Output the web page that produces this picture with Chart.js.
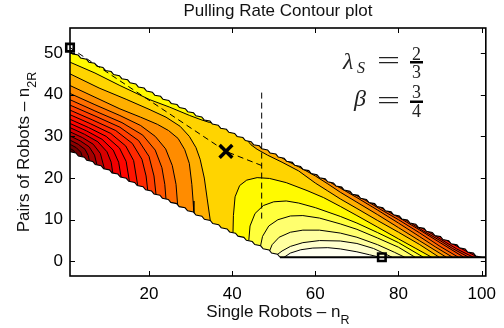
<!DOCTYPE html>
<html>
<head>
<meta charset="utf-8">
<script src="https://cdn.jsdelivr.net/npm/chart.js@4.4.1/dist/chart.umd.min.js"></script>
<style>
  html, body { margin: 0; padding: 0; background: #fff; }
</style>
</head>
<body>
<canvas id="chart" width="504" height="328"></canvas>
<script>
const xTicks = [20, 40, 60, 80, 100];
const yTicks = [0, 10, 20, 30, 40, 50];

// edges of the feasible region (n_R, n_2R)
const upperEdge = [[1, 50.5], [100, 1]];
const lowerEdge = [[1, 26.3], [51.5, 1]];
const bottomEdge = [[51.5, 1], [101, 1]];

// contour lines in the lower left, levels 1..15 (left edge -> lower edge)
const L1 = [[1, 27.1], [1.9, 26.6], [2.5, 25.55]];
const L2 = [[1, 28.1], [2.5, 27.3], [3.6, 26.2], [4.1, 24.75]];
const L3 = [[1, 29.1], [3, 28.1], [4.6, 26.9], [5.4, 25.4], [5.7, 23.95]];
const L4 = [[1, 30.1], [3.5, 28.9], [5.6, 27.5], [6.9, 25.5], [7.5, 23.05]];
const L5 = [[1, 31.1], [4, 29.7], [6.6, 28.1], [8.3, 25.9], [9.3, 22.15]];
const L6 = [[1, 32.1], [4.5, 30.5], [7.7, 28.7], [9.9, 26.3], [10.9, 23.8], [11.3, 21.15]];
const L7 = [[1, 33.1], [5, 31.3], [8.7, 29.3], [11.4, 26.7], [12.7, 23.8], [13.3, 20.15]];
const L8 = [[1, 34.1], [5.5, 32.1], [9.7, 30], [12.9, 27.2], [14.5, 24], [15.3, 19.15]];
const L9 = [[1, 35.2], [6, 33], [10.8, 30.7], [14.4, 27.7], [16.3, 24.2], [17.3, 18.15]];
const L10 = [[1, 36.3], [6.5, 33.9], [12, 31.4], [16, 28.3], [18.3, 24.5], [19.3, 20.5], [19.7, 16.95]];
const L11 = [[1, 37.5], [7, 34.9], [13, 32.2], [17.5, 29], [20, 25.2], [21.2, 20.5], [21.7, 15.95]];
const L12 = [[1, 38.8], [7, 36.1], [13.5, 33.3], [18.5, 30.3], [21.5, 26.7], [23.1, 22.5], [23.8, 18.5], [24.1, 14.75]];
const L13 = [[1, 40.3], [7, 37.6], [13, 35], [18, 32.6], [21.5, 30], [24, 27], [25.6, 23], [26.5, 18.5], [26.9, 13.35]];
const L14 = [[1, 42.2], [7, 39.4], [13, 36.6], [18, 34.6], [22, 32.9], [24.7, 31.4], [27, 29.5], [28.6, 26.8], [29.7, 23.5], [30.3, 18.5], [30.6, 14.5], [30.8, 11.4]];
const L15 = [[1, 45], [8, 41.6], [14.5, 38.9], [20, 36.5], [24.1, 34.6], [27.5, 32.4], [29.7, 30], [31.3, 27.3], [32.3, 24.5], [33.3, 20], [34, 15], [34.8, 9.4]];

// contour lines on the right, levels 8..15 (upper edge -> bottom)
const U8 = [[90, 6], [93, 4.2], [96, 2.6], [99.1, 1]];
const U9 = [[84, 9], [87, 7.2], [90, 5.4], [94, 3], [98, 1]];
const U10 = [[78, 12], [82, 9.8], [86, 7.3], [90, 5], [93, 3.1], [96.9, 1]];
const U11 = [[72, 15], [75, 13.3], [80, 10.6], [85, 7.6], [90, 4.5], [95.7, 1]];
const U12 = [[65, 18.5], [68, 16.8], [72, 14.7], [76, 12.3], [80, 10], [85, 6.9], [90, 3.6], [94.4, 1]];
const U13 = [[58, 22], [60, 20.9], [63, 19.3], [66, 17.6], [70, 15.3], [75, 12.3], [80, 9.2], [85, 6], [89, 3.4], [93, 1]];
const U14 = [[51, 25.5], [53, 24.2], [56, 22.7], [60, 20.5], [63, 18.6], [66, 16.6], [70, 14.2], [75, 11.2], [80, 8.1], [85, 5], [91.5, 1]];
const U15 = [[43.5, 29.25], [44.5, 28], [46, 26.9], [48.5, 25.5], [52, 23.8], [56, 21.7], [60, 18.8], [63, 16.9], [66, 15], [70, 12.7], [75, 9.8], [80, 7], [85, 4.1], [89.8, 1]];

// level 16 tongue along the top left
const T16 = [[1, 47.8], [7, 45.2], [13, 42.2], [20.2, 38.8], [25, 37], [29.8, 35], [32.5, 34], [34.5, 33.35], [35.6, 33.2]];

// ridge arcs, levels 16..21 (lower edge -> bottom)
const A16 = [[40.2, 6.9], [40.3, 11], [40.7, 15.5], [41.8, 18.2], [43.5, 19.5], [46, 20.1], [49, 19.9], [53, 18.9], [58, 17], [62, 15.3], [66, 13.2], [70, 11], [75, 8.2], [80, 5.4], [84, 3.2], [88, 1]];
const A17 = [[44, 5], [44.3, 8.5], [45.5, 11.5], [47.5, 13.4], [50, 14.3], [53, 14.5], [56, 14], [60, 12.9], [66, 10.8], [70, 9.2], [75, 6.9], [80, 4.5], [86, 1]];
const A18 = [[46.8, 3.6], [47.3, 6], [48.8, 8.5], [51, 10], [54, 10.9], [57, 11], [61, 10.4], [66, 9], [70, 7.7], [75, 5.6], [80, 3.4], [84, 1]];
const A19 = [[49, 2.5], [49.6, 4], [51.3, 5.8], [54, 7], [57, 7.5], [61, 7.5], [66, 6.8], [70, 5.8], [75, 4], [79, 2.2], [81.5, 1]];
const A20 = [[50.8, 1.6], [52, 2.5], [54, 3.6], [57, 4.5], [61, 5], [66, 4.9], [70, 4.3], [74, 3.1], [78.5, 1]];
const A21 = [[52.5, 1], [54, 2], [56.5, 2.8], [59.4, 3.2], [63, 3.3], [66, 3], [70, 2.3], [73, 1.6], [75.5, 1]];

// band colours (hot colormap), band 0 = lowest
const bandColors = [
  '#5a0000', '#730000', '#8c0000', '#a50000', '#be0000', '#d70000', '#f00000',
  '#ff0500', '#ff1400', '#ff2800', '#ff3e00', '#ff5500', '#ff6e00', '#ff8c00',
  '#ffaf00', '#ffd400', '#fffa00', '#ffff3c', '#ffff6e', '#ffffa0', '#ffffcd', '#fffff0'
];

const pathToVertex = [[1, 51.3], [38.5, 26.4], [47.1, 23]];
const boundaryLine = [[47.1, 40.5], [47.1, 10]];
const saddlePoint = [[38.5, 26.4]];
const optimumPoints = [[1, 51.3], [76, 1]];

const titleText = 'Pulling Rate Contour plot';
const xLabel = ['Single Robots \u2013 n', 'R'];
const yLabel = ['Pairs of Robots \u2013 n', '2R'];

const lowLines = [L1, L2, L3, L4, L5, L6, L7, L8, L9, L10, L11, L12, L13, L14, L15];
const rightLines = { 8: U8, 9: U9, 10: U10, 11: U11, 12: U12, 13: U13, 14: U14, 15: U15 };
const arcs = [A16, A17, A18, A19, A20, A21];

const FAR_L = 0, FAR_R = 103, FAR_T = 62, FAR_B = -8;

function toXY(arr) {
  return arr.map(p => ({ x: p[0], y: p[1] }));
}

// the grid makes the slanted edges come out as small steps
function stepped(edge, steps, depth, at) {
  const [a, b] = edge;
  const pts = [];
  for (let i = 0; i < steps; i++) {
    const t0 = i / steps, t1 = (i + at) / steps;
    pts.push([a[0] + (b[0] - a[0]) * t0, a[1] + (b[1] - a[1]) * t0]);
    pts.push([a[0] + (b[0] - a[0]) * t1, a[1] + (b[1] - a[1]) * t1 + depth]);
  }
  pts.push(b);
  return pts;
}
const upperSteps = stepped(upperEdge, 50, -0.42, 0.3);
const lowerSteps = stepped(lowerEdge, 25, 0.42, 0.7);

// polygons of the region above a level, closed outside the feasible area
function closeLeft(L) {
  const end = L[L.length - 1];
  return [...L, [end[0], FAR_B], [FAR_R, FAR_B], [FAR_R, FAR_T], [FAR_L, FAR_T], [FAR_L, L[0][1]]];
}
function closeBoth(L, U) {
  const end = L[L.length - 1];
  const uEnd = U[U.length - 1];
  return [...L, [end[0], FAR_B], [uEnd[0], FAR_B], ...U.slice().reverse(),
    [U[0][0], FAR_T], [FAR_L, FAR_T], [FAR_L, L[0][1]]];
}
function closeTongue(T) {
  const end = T[T.length - 1];
  return [...T, [end[0], FAR_T], [FAR_L, FAR_T], [FAR_L, T[0][1]]];
}
function closeArc(A) {
  const end = A[A.length - 1];
  return [...A, [end[0], FAR_B], [A[0][0], FAR_B]];
}

const datasets = [];

function area(points, color) {
  datasets.push({
    data: toXY(points),
    showLine: true,
    fill: 'shape',
    backgroundColor: color,
    borderColor: 'rgba(0,0,0,0)',
    borderWidth: 0,
    pointRadius: 0
  });
}

function curve(points, width, dash) {
  datasets.push({
    data: toXY(points),
    showLine: true,
    fill: false,
    borderColor: '#000',
    borderWidth: width,
    borderDash: dash || [],
    pointRadius: 0,
    clip: dash ? false : undefined
  });
}

area([[FAR_L, FAR_B], [FAR_R, FAR_B], [FAR_R, FAR_T], [FAR_L, FAR_T]], bandColors[0]);
for (let k = 1; k <= 15; k++) {
  const L = lowLines[k - 1];
  const U = rightLines[k];
  area(U ? closeBoth(L, U) : closeLeft(L), bandColors[k]);
}
area(closeTongue(T16), bandColors[16]);
arcs.forEach((A, i) => area(closeArc(A), bandColors[16 + i]));

[...lowLines, ...Object.values(rightLines), T16, ...arcs].forEach(l => curve(l, 1));

// white outside the feasible area
area([[FAR_L, upperEdge[0][1]], ...upperSteps, [FAR_R, 1], [FAR_R, FAR_T], [FAR_L, FAR_T]], '#fff');
area([[FAR_L, lowerEdge[0][1]], ...lowerSteps, [FAR_R, 1], [FAR_R, FAR_B], [FAR_L, FAR_B]], '#fff');

curve(upperSteps, 1.1);
curve(lowerSteps, 1.1);
curve(bottomEdge, 1.8);

curve(pathToVertex, 1, [6, 4]);
curve(boundaryLine, 1, [6, 4]);

datasets.push({
  data: toXY(saddlePoint),
  pointStyle: 'crossRot',
  pointRadius: 9,
  borderColor: '#000',
  borderWidth: 3.5,
  clip: false
});
datasets.push({
  data: toXY(optimumPoints),
  pointStyle: 'rect',
  pointRadius: 5.3,
  backgroundColor: 'rgba(255,255,255,0)',
  borderColor: '#000',
  borderWidth: 2.6,
  clip: false
});

datasets.forEach((d, i) => { d.order = datasets.length - i; });

const FONT = '"Liberation Sans", Arial, Helvetica, sans-serif';
const FS = 17;

function drawWithSub(ctx, parts, cx, base, size, subSize, drop) {
  ctx.font = size + 'px ' + FONT;
  const w1 = ctx.measureText(parts[0]).width;
  ctx.font = subSize + 'px ' + FONT;
  const w2 = ctx.measureText(parts[1]).width;
  const x0 = cx - (w1 + w2) / 2;
  ctx.textAlign = 'left';
  ctx.font = size + 'px ' + FONT;
  ctx.fillText(parts[0], x0, base);
  ctx.font = subSize + 'px ' + FONT;
  ctx.fillText(parts[1], x0 + w1, base + drop);
}

const framePlugin = {
  id: 'frame',
  afterDatasetsDraw(chart) {
    const ctx = chart.ctx;
    const { left, right, top, bottom } = chart.chartArea;
    const xs = chart.scales.x, ys = chart.scales.y;
    ctx.save();
    ctx.strokeStyle = '#000';
    ctx.lineWidth = 1;
    ctx.beginPath();
    xTicks.forEach(v => {
      const px = Math.round(xs.getPixelForValue(v)) + 0.5;
      ctx.moveTo(px, bottom); ctx.lineTo(px, bottom - 5);
      ctx.moveTo(px, top); ctx.lineTo(px, top + 5);
    });
    yTicks.forEach(v => {
      const py = Math.round(ys.getPixelForValue(v)) + 0.5;
      ctx.moveTo(left, py); ctx.lineTo(left + 5, py);
      ctx.moveTo(right, py); ctx.lineTo(right - 5, py);
    });
    ctx.stroke();
    ctx.lineWidth = 1.6;
    ctx.strokeRect(left, top, right - left, bottom - top);
    ctx.restore();
  },
  afterDraw(chart) {
    const ctx = chart.ctx;
    const { left, right, top, bottom } = chart.chartArea;
    const cx = (left + right) / 2;
    ctx.save();
    ctx.fillStyle = '#111';
    ctx.textBaseline = 'alphabetic';
    ctx.font = FS + 'px ' + FONT;
    ctx.textAlign = 'center';
    ctx.fillText(titleText, cx, 16);
    drawWithSub(ctx, xLabel, cx, 317, FS, 12.5, 7);
    ctx.save();
    ctx.translate(29, (top + bottom) / 2);
    ctx.rotate(-Math.PI / 2);
    drawWithSub(ctx, yLabel, 0, 0, FS, 12.5, 7);
    ctx.restore();

    // parameter annotation
    const serif = '"Liberation Serif", "DejaVu Serif", serif';
    ctx.fillStyle = '#222';
    ctx.textAlign = 'left';
    ctx.font = 'italic 24px ' + serif;
    ctx.fillText('\u03bb', 343, 69);
    ctx.font = 'italic 16px ' + serif;
    ctx.fillText('S', 357, 73);
    ctx.font = 'italic 24px ' + serif;
    ctx.fillText('\u03b2', 354, 106);
    ctx.save();
    ctx.font = '24px ' + serif;
    ctx.translate(377, 0);
    ctx.scale(1.7, 1);
    ctx.fillText('=', 0, 68);
    ctx.fillText('=', 0, 108);
    ctx.restore();
    ctx.font = '18px ' + serif;
    ctx.textAlign = 'center';
    ctx.fillText('2', 416.5, 60);
    ctx.fillText('3', 416.5, 78);
    ctx.fillText('3', 416.5, 98);
    ctx.fillText('4', 416.5, 117);
    ctx.fillStyle = '#000';
    ctx.fillRect(410, 61, 13, 2.5);
    ctx.fillRect(410, 100.5, 13, 2.5);
    ctx.restore();
  }
};

new Chart(document.getElementById('chart'), {
  type: 'scatter',
  data: { datasets: datasets },
  options: {
    responsive: false,
    devicePixelRatio: 1,
    animation: false,
    events: [],
    layout: { padding: { left: 0, right: 17, top: 28, bottom: 0 } },
    plugins: {
      legend: { display: false },
      tooltip: { enabled: false },
      filler: { drawTime: 'beforeDatasetDraw' }
    },
    scales: {
      x: {
        type: 'linear',
        min: 1,
        max: 101,
        grid: { display: false, drawTicks: false },
        border: { display: false },
        ticks: {
          autoSkip: false,
          maxRotation: 0,
          padding: 8,
          color: '#000',
          font: { family: FONT, size: FS }
        },
        afterBuildTicks: axis => { axis.ticks = xTicks.map(v => ({ value: v })); },
        afterFit: axis => { axis.height = 52; }
      },
      y: {
        type: 'linear',
        min: -3.5,
        max: 56,
        grid: { display: false, drawTicks: false },
        border: { display: false },
        ticks: {
          autoSkip: false,
          padding: 7,
          color: '#000',
          font: { family: FONT, size: FS }
        },
        afterBuildTicks: axis => { axis.ticks = yTicks.map(v => ({ value: v })); },
        afterFit: axis => { axis.width = 70; }
      }
    }
  },
  plugins: [framePlugin]
});
</script>
</body>
</html>
